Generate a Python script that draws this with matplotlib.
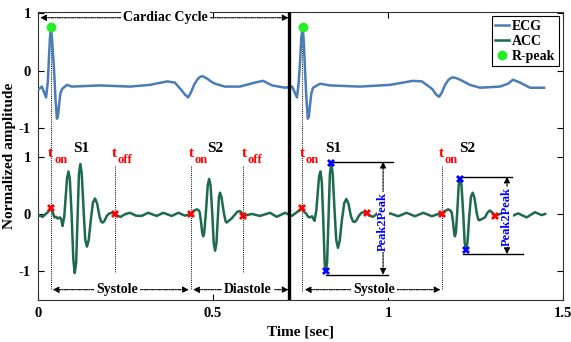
import matplotlib
matplotlib.use("Agg")
import matplotlib.pyplot as plt
import numpy as np

plt.rcParams['font.family'] = ['Liberation Serif', 'DejaVu Serif']
plt.rcParams['font.weight'] = 'bold'

# ---------------- data ----------------
ecg_t = [0.003, 0.011, 0.023, 0.028, 0.031, 0.034, 0.037, 0.040, 0.046, 0.050, 0.054,
         0.057, 0.060, 0.064, 0.069, 0.083, 0.097,
         0.177, 0.263, 0.320, 0.369, 0.391, 0.411, 0.420, 0.429, 0.437, 0.446, 0.455,
         0.463, 0.471, 0.483, 0.494, 0.506,
         0.534, 0.577, 0.620, 0.643, 0.669, 0.706, 0.726, 0.740, 0.745, 0.749, 0.752,
         0.756, 0.759, 0.763, 0.767, 0.771, 0.774, 0.777, 0.781, 0.786, 0.806, 0.834,
         0.920, 1.006, 1.071, 1.097, 1.126, 1.138, 1.146, 1.154,
         1.163, 1.173, 1.183, 1.194, 1.206, 1.234, 1.263, 1.320, 1.343, 1.357, 1.377,
         1.406, 1.446]
ecg_v = [-0.32, -0.28, -0.47, -0.20, 0.18, 0.55, 0.75, 0.55, 0.00, -0.50, -0.84,
         -0.80, -0.61, -0.40, -0.32, -0.25, -0.28,
         -0.26, -0.28, -0.25, -0.19, -0.21, -0.35, -0.42, -0.47, -0.38, -0.25, -0.16,
         -0.11, -0.10, -0.14, -0.19, -0.23,
         -0.28, -0.28, -0.21, -0.18, -0.26, -0.30, -0.28, -0.47, -0.20, 0.18, 0.55,
         0.75, 0.55, 0.00, -0.50, -0.84, -0.80, -0.61, -0.40, -0.30, -0.23, -0.26,
         -0.28, -0.25, -0.18, -0.19, -0.32, -0.42, -0.46, -0.38,
         -0.25, -0.16, -0.12, -0.13, -0.16, -0.25, -0.30, -0.28, -0.23, -0.16, -0.21,
         -0.30, -0.30]
ecg_offset = 2.5

acc_t = [0.000, 0.013, 0.028, 0.037, 0.042, 0.047, 0.052, 0.056, 0.063, 0.067, 0.070,
         0.075, 0.079, 0.083, 0.087, 0.091, 0.096, 0.101, 0.105, 0.109, 0.113, 0.117,
         0.121, 0.125, 0.130, 0.135, 0.140, 0.145, 0.151, 0.157, 0.163, 0.169, 0.176,
         0.181, 0.185, 0.190, 0.197, 0.204, 0.213, 0.221, 0.229, 0.237, 0.244, 0.251,
         0.263, 0.280, 0.296, 0.315, 0.339, 0.358, 0.382, 0.401, 0.420,
         0.436, 0.444, 0.453, 0.458, 0.462, 0.466, 0.469, 0.472, 0.475, 0.480, 0.485,
         0.489, 0.493, 0.498, 0.502, 0.506, 0.510, 0.514, 0.517, 0.520, 0.524, 0.531,
         0.536, 0.539, 0.545, 0.553, 0.560, 0.570, 0.577, 0.583, 0.587,
         0.611, 0.634, 0.663, 0.682, 0.706, 0.725, 0.744,
         0.754, 0.760, 0.767, 0.772, 0.776, 0.783, 0.787, 0.790, 0.795, 0.799, 0.803,
         0.807, 0.811, 0.815, 0.819, 0.822, 0.826, 0.830, 0.834, 0.838, 0.842, 0.847,
         0.852, 0.857, 0.862, 0.868, 0.875, 0.881, 0.887, 0.894, 0.900, 0.905, 0.910,
         0.917, 0.924, 0.932, 0.940, 0.948, 0.957, 0.964, 0.971,
         0.987, 1.006, 1.029, 1.053, 1.077, 1.101, 1.125, 1.144,
         1.155, 1.163, 1.172, 1.178, 1.182, 1.186, 1.189, 1.191, 1.194, 1.198, 1.202,
         1.206, 1.210, 1.215, 1.219, 1.223, 1.227, 1.232, 1.237, 1.242, 1.247, 1.254,
         1.258, 1.261, 1.268, 1.277, 1.284, 1.291, 1.297, 1.306,
         1.325, 1.349, 1.372, 1.396, 1.420, 1.439, 1.449]
acc_v = [-0.02, -0.05, 0.03, 0.10, 0.03, -0.06, -0.05, -0.08, -0.06, -0.10, -0.21,
         -0.05, 0.28, 0.62, 0.74, 0.60, 0.00, -0.80, -1.03, -0.85, -0.10, 0.70,
         0.87, 0.70, 0.10, -0.45, -0.57, -0.45, -0.10, 0.20, 0.27, 0.18, -0.05,
         -0.14, -0.15, -0.12, -0.03, 0.01, 0.02, 0.00, -0.04, -0.05, -0.02, 0.00,
         0.02, -0.03, -0.035, 0.02, -0.035, 0.02, -0.035, 0.02, -0.03,
         0.00, 0.05, 0.08, 0.07, 0.03, -0.15, -0.32, -0.39, -0.33, 0.05, 0.50,
         0.61, 0.50, 0.00, -0.50, -0.64, -0.50, -0.05, 0.30, 0.37, 0.30, 0.02,
         -0.13, -0.15, -0.12, -0.08, -0.03, 0.04, 0.05, 0.01, -0.035,
         0.00, -0.035, 0.02, -0.05, 0.02, -0.035, 0.05,
         0.10, 0.04, 0.00, -0.05, -0.06, -0.04, -0.09, -0.12, 0.05, 0.35, 0.65,
         0.74, 0.55, -0.10, -0.85, -1.00, -0.85, -0.10, 0.70, 0.88, 0.70, 0.10,
         -0.45, -0.59, -0.47, -0.12, 0.19, 0.26, 0.18, -0.04, -0.13, -0.14, -0.11,
         -0.03, 0.02, 0.03, 0.01, -0.03, -0.05, -0.02, 0.02,
         -0.04, 0.01, -0.04, 0.02, -0.04, 0.02, -0.04, 0.00,
         0.00, 0.05, 0.08, 0.06, 0.03, -0.15, -0.33, -0.39, -0.33, 0.05, 0.50,
         0.61, 0.50, 0.00, -0.50, -0.62, -0.50, -0.05, 0.30, 0.37, 0.28, 0.00,
         -0.10, -0.11, -0.09, -0.06, 0.02, 0.06, 0.03, -0.03,
         0.01, -0.05, 0.01, -0.06, 0.03, -0.02, 0.00]

rpeak_t = [0.037, 0.756]
rpeak_v = [0.75, 0.75]

onoff_t = [0.037, 0.221, 0.436, 0.587, 0.754, 0.940, 1.155, 1.306]
onoff_v = [0.10, 0.00, 0.00, -0.035, 0.10, 0.01, 0.00, -0.03]

p2p_t = [0.822, 0.838, 1.206, 1.223]
p2p_v = [-1.00, 0.88, 0.61, -0.62]

cycle_split = 0.718

xticks = [0, 0.5, 1, 1.5]
xtick_labels = ['0', '0.5', '1', '1.5']
yticks = [-1, 0, 1, 1.5, 2.5, 3.5]
ytick_labels = ['-1', '0', '1', '-1', '0', '1']

# t labels: (x, sub)
tlabels = [(0.029, 'on'), (0.210, 'off'), (0.430, 'on'), (0.582, 'off'),
           (0.747, 'on'), (1.144, 'on')]
slabels = [(0.123, 'S1'), (0.507, 'S2'), (0.843, 'S1'), (1.225, 'S2')]

# ---------------- figure ----------------
fig = plt.figure(figsize=(5.71, 3.42), dpi=100)
ax = fig.add_axes([38/571, 1-300/342, (563-38)/571, (300-12)/342])

ecg_col = '#4a7db5'
acc_col = '#1d6a4c'

ax.plot(ecg_t, np.array(ecg_v) + ecg_offset, color=ecg_col, lw=1.8, label='ECG',
        zorder=3, solid_joinstyle='round')
ax.plot(acc_t, acc_v, color=acc_col, lw=1.8, label='ACC', zorder=3,
        solid_joinstyle='round')
ax.plot(rpeak_t, np.array(rpeak_v) + ecg_offset, 'o', color='#22ee22', ms=6,
        label='R-peak', zorder=5, linestyle='none')
ax.plot(onoff_t, onoff_v, 'X', color='red', ms=6, mew=0, zorder=5)
ax.plot(p2p_t, p2p_v, 'X', color='blue', ms=6, mew=0, zorder=5)

# vertical dotted lines
dot_kw = dict(color='black', lw=0.7, ls=(0, (1, 1.2)), zorder=2)
ax.plot([rpeak_t[0], rpeak_t[0]], [rpeak_v[0] + ecg_offset, -1.32], **dot_kw)
ax.plot([rpeak_t[1] - 0.002, rpeak_t[1] - 0.002], [rpeak_v[1] + ecg_offset, -1.35], **dot_kw)
ax.plot([onoff_t[1], onoff_t[1]], [0.84, -1.03], **dot_kw)
ax.plot([onoff_t[2], onoff_t[2]], [0.84, -1.32], **dot_kw)
ax.plot([onoff_t[3], onoff_t[3]], [0.84, -1.03], **dot_kw)
ax.plot([onoff_t[6], onoff_t[6]], [0.84, -1.32], **dot_kw)

# thick separator
ax.axvline(cycle_split, color='black', lw=2.4, zorder=4)

# double arrows with labels
def darrow(x0, x1, y, label, xc):
    ax.annotate('', xy=(x0, y), xytext=(x1, y),
                arrowprops=dict(arrowstyle='<|-|>', color='black', lw=0.8,
                                ls=(0, (3, 1, 1, 1)), mutation_scale=9,
                                shrinkA=0, shrinkB=0), zorder=4)
    ax.text(xc, y, label, ha='center', va='center', fontsize=10, fontweight='bold',
            bbox=dict(facecolor='white', edgecolor='none', pad=1.5), zorder=5)

darrow(0.006, 0.716, 3.42, 'Cardiac Cycle', 0.363)
darrow(0.042, 0.431, -1.32, 'Systole', 0.226)
darrow(0.443, 0.716, -1.32, 'Diastole', 0.600)
darrow(0.762, 1.150, -1.32, 'Systole', 0.961)

# peak-to-peak
def p2p(xa, xb_top, xb_bot, ytop, ybot, xarr, ytxt):
    ax.plot([xa[0], xb_top], [ytop, ytop], color='black', lw=1.0, zorder=2)
    ax.plot([xa[1], xb_bot], [ybot, ybot], color='black', lw=1.0, zorder=2)
    ax.annotate('', xy=(xarr, ytop), xytext=(xarr, ybot),
                arrowprops=dict(arrowstyle='<|-|>', color='black', lw=0.8,
                                ls=(0, (2, 1)), mutation_scale=9,
                                shrinkA=0, shrinkB=0), zorder=4)
    ax.text(xarr, ytxt, 'Peak2Peak', rotation=90, ha='center', va='center',
            color='blue', fontsize=9, fontweight='bold',
            bbox=dict(facecolor='white', edgecolor='none', pad=0.3), zorder=5)

p2p((0.838, 0.822), 1.014, 1.0, 0.91, -1.06, 0.986, -0.14)
p2p((1.206, 1.214), 1.354, 1.386, 0.65, -0.70, 1.340, -0.05)

# labels t_on/t_off and S1/S2
for x, sub in tlabels:
    ax.text(x, 1.0, 't', color='red', fontsize=11, fontweight='bold',
            ha='left', va='baseline', zorder=6)
    ax.text(x + 0.017, 0.89, sub, color='red', fontsize=9, fontweight='bold',
            ha='left', va='baseline', zorder=6)
for x, s in slabels:
    ax.text(x, 1.08, s, color='black', fontsize=11, fontweight='bold',
            ha='center', va='baseline', zorder=6)

ax.set_xlim(0, 1.5)
ax.set_ylim(-1.5, 3.52)
ax.set_xticks(xticks)
ax.set_xticklabels(xtick_labels)
ax.set_yticks(yticks)
ax.set_yticklabels(ytick_labels)
ax.tick_params(direction='in', top=True, right=True, length=4, width=0.8,
               labelsize=10.5, pad=5)
for lab in ax.get_xticklabels() + ax.get_yticklabels():
    lab.set_fontweight('bold')
for sp in ax.spines.values():
    sp.set_linewidth(0.8)
    sp.set_color('#333333')

ax.set_xlabel('Time [sec]', fontsize=11, fontweight='bold', labelpad=4)
ax.set_ylabel('Normalized amplitude', fontsize=11, fontweight='bold', labelpad=2)

leg = ax.legend(loc='upper right', fontsize=10, handlelength=1.0, handletextpad=0.2,
                borderpad=0.25, labelspacing=0.15, borderaxespad=0.3,
                fancybox=False, edgecolor='black', framealpha=1,
                prop={'weight': 'bold', 'size': 10})
leg.get_frame().set_linewidth(0.8)

fig.savefig('out.png', dpi=100)
